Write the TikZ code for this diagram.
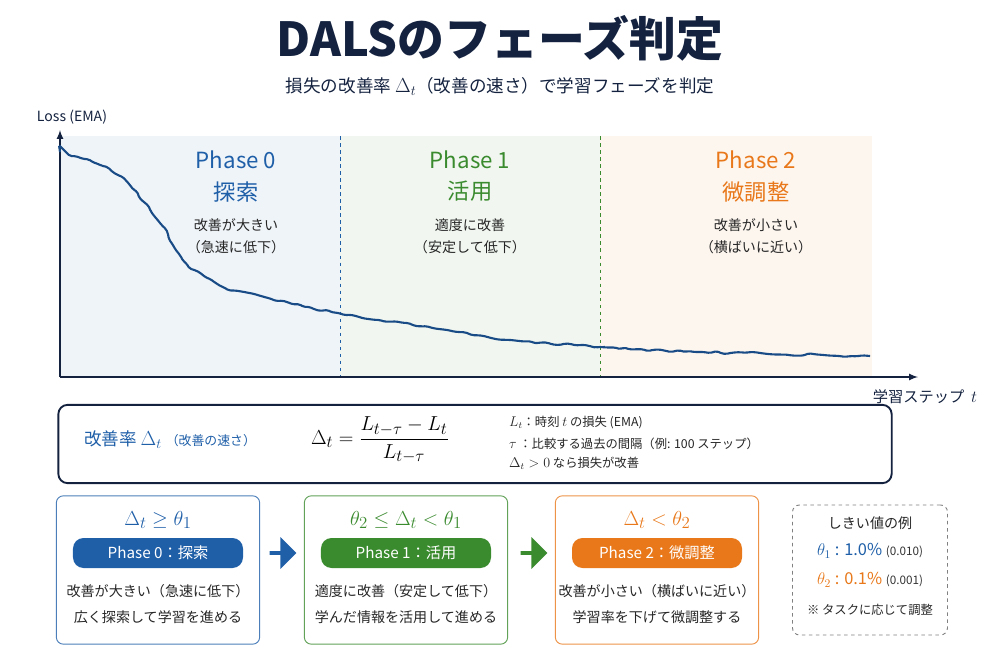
\documentclass[tikz,border=0pt]{standalone}
\usepackage{fontspec}
\setmainfont{Noto Sans CJK JP}
\usetikzlibrary{positioning,shapes.arrows,decorations.pathmorphing}
\definecolor{pblue}{HTML}{1F5FA8}
\definecolor{pgreen}{HTML}{3A8A2E}
\definecolor{porange}{HTML}{E8781A}
\definecolor{navy}{HTML}{14223F}
\newcommand{\fsz}[1]{\fontsize{#1}{#1}\selectfont}

\begin{document}
\begin{tikzpicture}[x=0.03cm,y=-0.03cm]
        % Setup the styles
        \tikzset{small text/.style={font=\fsz{12}, text=black!85},
                 phase title/.style={font=\fsz{19}},
                 phase box/.style={draw, rounded corners=6pt, line width=0.8pt,
                                   minimum width=6.1cm, minimum height=4.45cm},
                 pill/.style={rounded corners=9pt, minimum width=5.1cm,
                              minimum height=0.9cm, text=white, font=\fsz{13}},
                 block arrow/.style={single arrow, minimum width=0.95cm,
                                     single arrow head extend=0.05cm,
                                     minimum height=0.8cm, inner sep=0pt}}
        \useasboundingbox (0,0) rectangle (1000,667);

        % Title
        \node[font=\fsz{40}\bfseries, text=navy] (title) at (500,38) {DALSのフェーズ判定};
        \node[font=\fsz{15}, text=navy] (subtitle) at (500,86)
            {損失の改善率 {\fsz{17}$\Delta_t$}（改善の速さ）で学習フェーズを判定};

        % Phase backgrounds
        \fill[pblue!7] (60,136) rectangle (340,377);
        \fill[pgreen!7] (340,136) rectangle (600,377);
        \fill[porange!7] (600,136) rectangle (872,377);
        \draw[pblue, dashed, thick] (340,136) -- (340,377);
        \draw[pgreen, dashed, thick] (600,136) -- (600,377);

        % Axes
        \coordinate (origin) at (60,377);
        \coordinate (ytop) at (60,130);
        \coordinate (xend) at (918,377);
        \draw[navy, line width=1.6pt, -latex] (origin) -- (ytop);
        \draw[navy, line width=1.6pt, -latex] (origin) -- (xend);
        \node[font=\fsz{12}, text=navy] (ylabel) at (72,117) {Loss (EMA)};
        \node[font=\fsz{13}, text=navy] (xlabel) at (925,397) {学習ステップ\ \ {\fsz{15}$t$}};

        % Loss curve
        \draw[pblue!80!black, line width=1.8pt, decorate,
              decoration={random steps, segment length=5pt, amplitude=1.2pt},
              rounded corners=1.5pt]
            plot[smooth] coordinates {(60,152) (100,165) (128,183) (160,223) (185,262)
              (223,287) (268,298) (338,313) (447,330) (511,340) (600,347)
              (702,352) (870,356)};

        % Phase labels in plot
        \node[phase title, text=pblue] (p0) at (236,160) {Phase 0};
        \node[phase title, text=pblue, below=0.12cm of p0] (p0b) {探索};
        \node[small text, align=center, below=0.25cm of p0b] (p0c) {改善が大きい\\[7pt]（急速に低下）};
        \node[phase title, text=pgreen] (p1) at (470,160) {Phase 1};
        \node[phase title, text=pgreen, below=0.12cm of p1] (p1b) {活用};
        \node[small text, align=center, below=0.25cm of p1b] (p1c) {適度に改善\\[7pt]（安定して低下）};
        \node[phase title, text=porange] (p2) at (756,160) {Phase 2};
        \node[phase title, text=porange, below=0.12cm of p2] (p2b) {微調整};
        \node[small text, align=center, below=0.25cm of p2b] (p2c) {改善が小さい\\[7pt]（横ばいに近い）};

        % Formula box
        \node[draw=navy, line width=1.6pt, rounded corners=8pt,
              minimum width=25cm, minimum height=2.35cm] (fbox) at (475,444) {};
        \node[text=pblue, font=\fsz{15}] (rate) at (170,440)
            {改善率 {\fsz{18}$\Delta_t$} {\fsz{11}（改善の速さ）}};
        \node[font=\fsz{19}] (formula) at (380,440)
            {$\displaystyle \Delta_t = \frac{L_{t-\tau}-L_t}{L_{t-\tau}}$};
        \node[small text, font=\fsz{10.5}, align=left, anchor=west] (notes) at (505,443)
            {{\fsz{12}$L_t$}：時刻 {\fsz{12}$t$} の損失 (EMA)\\[6pt]
             {\fsz{12}$\tau$} ：比較する過去の間隔（例: 100 ステップ）\\[6pt]
             {\fsz{12}$\Delta_t > 0$} なら損失が改善};

        % Phase boxes
        \node[phase box, draw=pblue!80] (b0) at (158,570) {};
        \node[phase box, draw=pgreen!80] (b1) at (406,570) {};
        \node[phase box, draw=porange!80] (b2) at (657,570) {};
        \node[draw=black!50, dashed, rounded corners=6pt, line width=0.8pt,
              minimum width=4.65cm, minimum height=3.9cm] (b3) at (870,570) {};

        \node[block arrow, fill=pblue] (a0) at (282,553) {};
        \node[block arrow, fill=pgreen] (a1) at (533,553) {};

        \node[font=\fsz{19}, text=pblue] (c0) at (158,520) {$\Delta_t \geq \theta_1$};
        \node[pill, fill=pblue] (q0) at (158,553) {Phase 0：探索};
        \node[small text, align=center] (d0) at (158,604) {改善が大きい（急速に低下）\\[10pt]広く探索して学習を進める};

        \node[font=\fsz{19}, text=pgreen] (c1) at (406,520) {$\theta_2 \leq \Delta_t < \theta_1$};
        \node[pill, fill=pgreen] (q1) at (406,553) {Phase 1：活用};
        \node[small text, align=center] (d1) at (406,604) {適度に改善（安定して低下）\\[10pt]学んだ情報を活用して進める};

        \node[font=\fsz{19}, text=porange] (c2) at (657,520) {$\Delta_t < \theta_2$};
        \node[pill, fill=porange] (q2) at (657,553) {Phase 2：微調整};
        \node[small text, align=center] (d2) at (657,604) {改善が小さい（横ばいに近い）\\[10pt]学習率を下げて微調整する};

        % Threshold example
        \node[small text] (t0) at (870,523) {しきい値の例};
        \node[font=\fsz{14}, text=pblue] (t1) at (870,551)
            {$\theta_1$ : 1.0\% {\fsz{10}\color{black!80}(0.010)}};
        \node[font=\fsz{14}, text=porange] (t2) at (870,580)
            {$\theta_2$ : 0.1\% {\fsz{10}\color{black!80}(0.001)}};
        \node[small text, font=\fsz{10.5}] (t3) at (870,610) {※ タスクに応じて調整};
\end{tikzpicture}
\end{document}
